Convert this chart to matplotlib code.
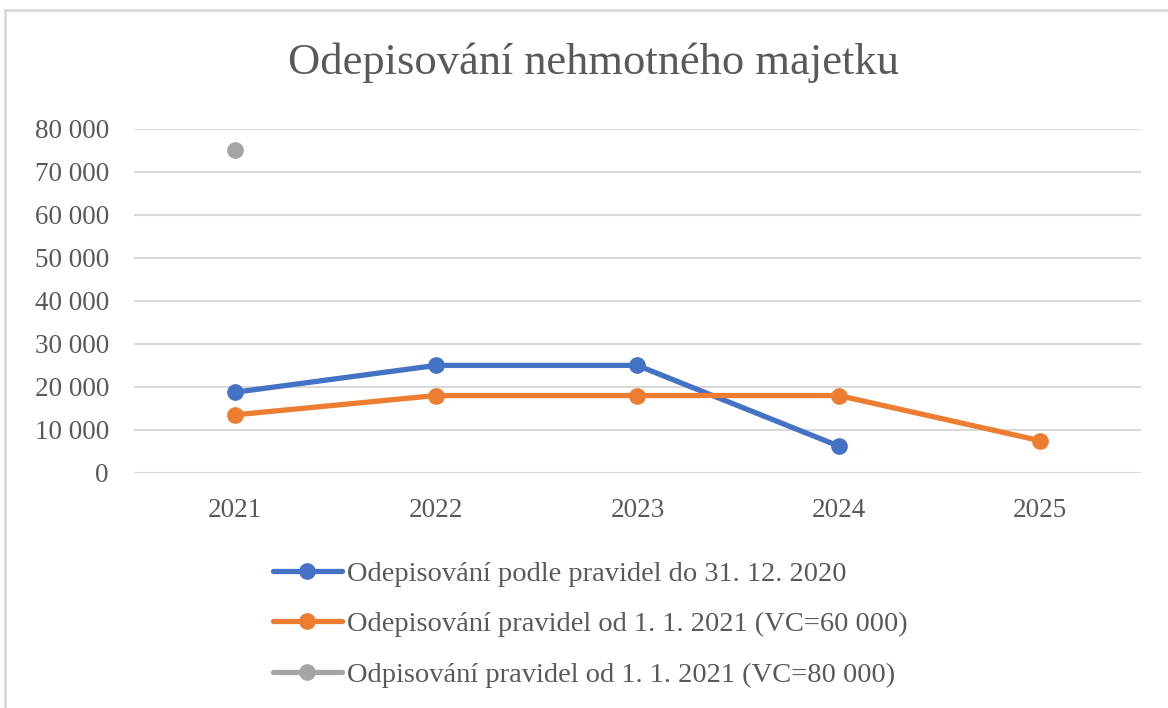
import matplotlib.pyplot as plt
from matplotlib.patches import Rectangle
from matplotlib.ticker import FuncFormatter
import numpy as np

# --- Data ---
years = ["2021", "2022", "2023", "2024", "2025"]
old_rules = [18750, 25000, 25000, 6250, np.nan]
new_rules_60k = [13500, 18000, 18000, 18000, 7500]
new_rules_80k = [75000, np.nan, np.nan, np.nan, np.nan]

labels = [
    "Odepisování podle pravidel do 31. 12. 2020",
    "Odepisování pravidel od 1. 1. 2021 (VC=60 000)",
    "Odpisování pravidel od 1. 1. 2021 (VC=80 000)",
]
colors = ["#4472C4", "#ED7D31", "#A5A5A5"]
text_color = "#595959"
grid_color = "#D9D9D9"

plt.rcParams['font.family'] = ['Liberation Serif', 'DejaVu Serif']

fig = plt.figure(figsize=(11.68, 7.08), dpi=100)
ax = fig.add_axes([0.1147, 0.332, 0.862, 0.486])

x = np.arange(len(years))
for vals, lab, col in zip([old_rules, new_rules_60k, new_rules_80k], labels, colors):
    ax.plot(x, vals, color=col, linewidth=3.8, marker='o', markersize=11,
            solid_capstyle='round', label=lab)

ax.set_xlim(-0.5, len(years) - 0.5)
ax.set_ylim(0, 80000)
ax.set_yticks(np.arange(0, 80001, 10000))
ax.yaxis.set_major_formatter(FuncFormatter(lambda v, p: f"{int(v):,}".replace(",", " ")))
ax.set_xticks(x)
ax.set_xticklabels(years)

ax.grid(axis='y', color=grid_color, linewidth=1.5)
ax.set_axisbelow(True)
for s in ax.spines.values():
    s.set_visible(False)
ax.tick_params(axis='both', length=0, labelsize=19.5, colors=text_color)
ax.tick_params(axis='y', pad=18)
ax.tick_params(axis='x', pad=18)

fig.text(0.508, 0.912, "Odepisování nehmotného majetku", ha='center', va='center',
         fontsize=32, color=text_color)

leg = fig.legend(loc='upper left', bbox_to_anchor=(0.212, 0.244), frameon=False,
                 fontsize=20.5, labelcolor=text_color, handlelength=2.4,
                 handletextpad=0.2, labelspacing=0.86)

fig.patches.append(Rectangle((0.004, -0.01), 1.1, 0.996, transform=fig.transFigure,
                             fill=False, edgecolor=grid_color, linewidth=2))

fig.savefig("out.png", dpi=100)
